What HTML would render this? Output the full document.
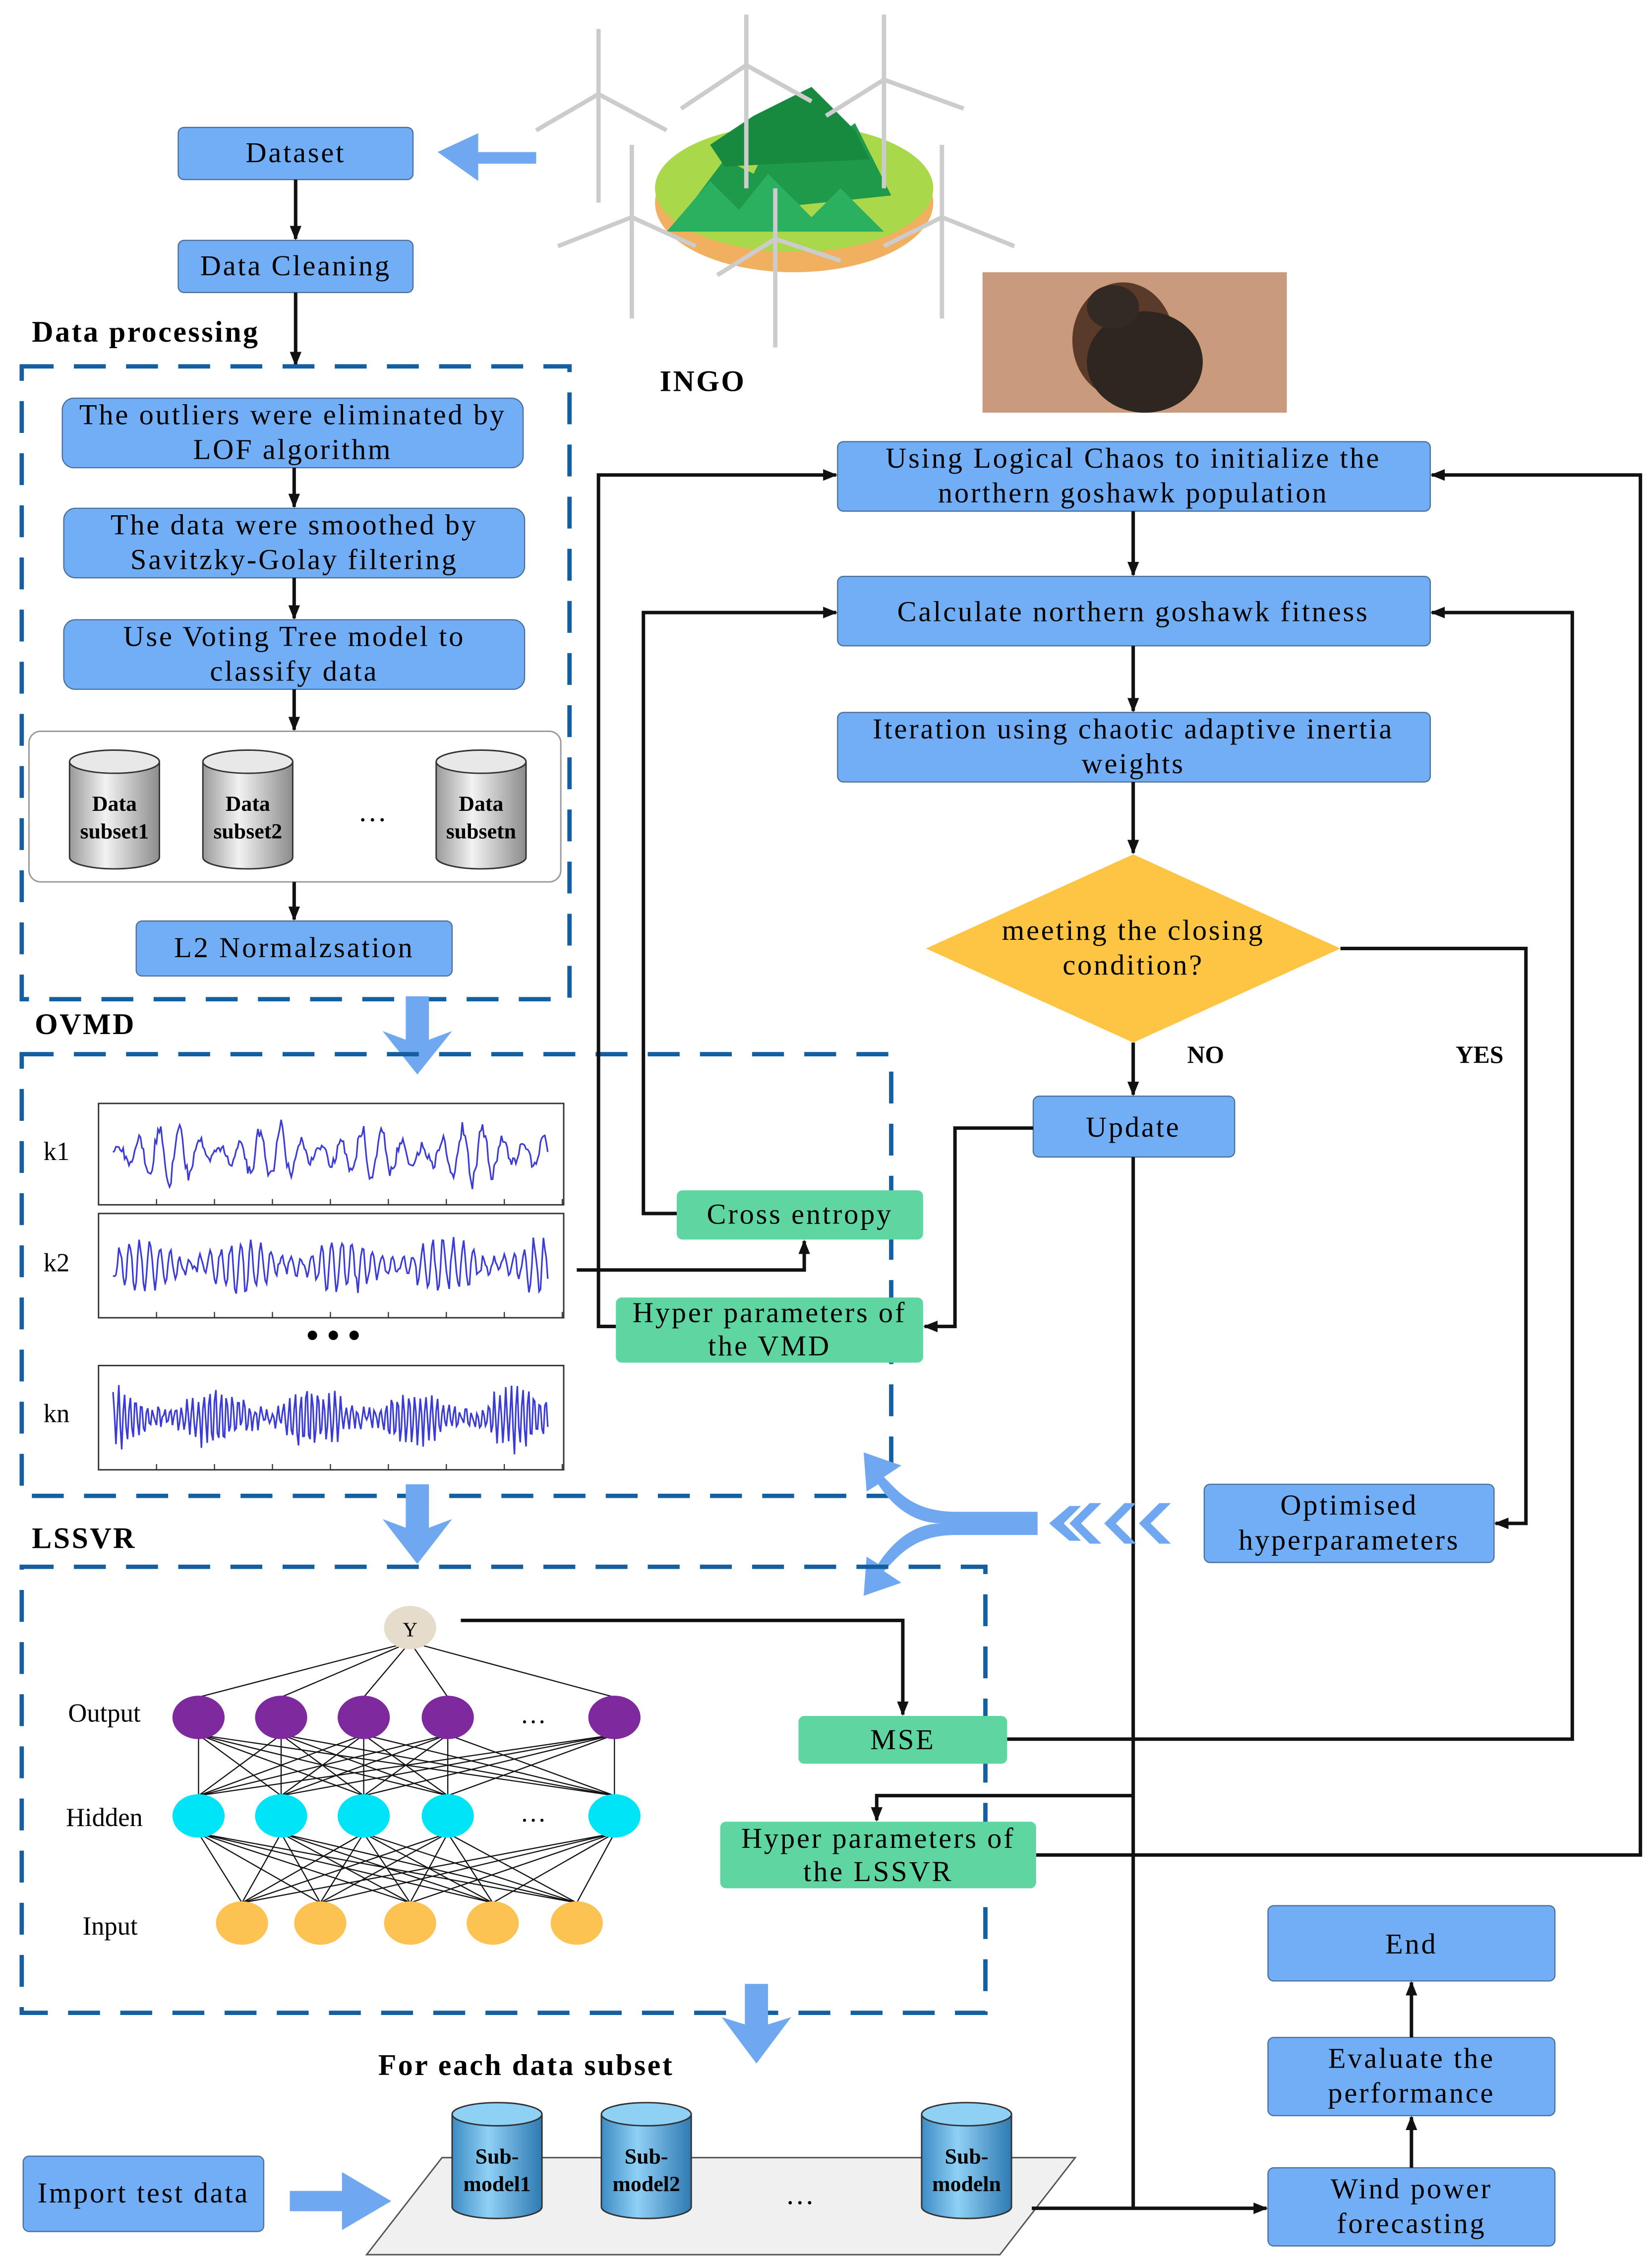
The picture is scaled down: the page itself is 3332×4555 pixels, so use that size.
<!DOCTYPE html>
<html><head><meta charset="utf-8"><style>
html,body{margin:0;padding:0;background:#fff;}
svg{display:block;}
text{font-family:"Liberation Serif",serif;fill:#000;}
.b{fill:#72aef5;stroke:#4a6f9a;stroke-width:0.8;}
.g{fill:#5fd6a2;stroke:none;}
.t{font-size:20px;text-anchor:middle;letter-spacing:1.3px;}
.l{stroke:#111;stroke-width:2.4;fill:none;}
.d{stroke:#135f9f;stroke-width:3;fill:none;stroke-dasharray:22,14;}
.h{font-size:20.5px;font-weight:bold;letter-spacing:1.2px;}
</style></head><body>
<svg id="s" xmlns="http://www.w3.org/2000/svg" width="3332" height="4555" viewBox="0 0 1140 1560" preserveAspectRatio="none">
<defs>
<marker id="a" markerWidth="10" markerHeight="10" refX="9" refY="5" orient="auto" markerUnits="userSpaceOnUse"><path d="M0,1 L10,5 L0,9 z" fill="#111"/></marker>
<linearGradient id="cyl" x1="0" x2="1"><stop offset="0" stop-color="#9a9a9a"/><stop offset="0.4" stop-color="#f2f2f2"/><stop offset="1" stop-color="#8c8c8c"/></linearGradient>
<linearGradient id="cylb" x1="0" x2="1"><stop offset="0" stop-color="#3d8cc4"/><stop offset="0.4" stop-color="#8fd0f5"/><stop offset="1" stop-color="#2f7ab3"/></linearGradient>
</defs>

<g>
<ellipse cx="548" cy="140" rx="96" ry="48" fill="#f0b060"/>
<ellipse cx="548" cy="130" rx="96" ry="44" fill="#a9d84a"/>
<path d="M470,150 L500,110 L520,120 L545,70 L570,100 L590,85 L615,135 Z" fill="#1f9a4a"/>
<path d="M490,100 L520,80 L560,60 L590,90 L600,110 L500,115Z" fill="#188a40"/>
<path d="M460,160 L490,125 L510,145 L530,120 L560,150 L580,130 L610,160Z" fill="#2bb060"/>
<g stroke="#ccc" stroke-width="3" fill="none">
<line x1="413" y1="20" x2="413" y2="140"/><line x1="413" y1="65" x2="370" y2="90"/><line x1="413" y1="65" x2="460" y2="90"/>
<line x1="515" y1="10" x2="515" y2="130"/><line x1="515" y1="45" x2="470" y2="75"/><line x1="515" y1="45" x2="560" y2="70"/>
<line x1="610" y1="10" x2="610" y2="130"/><line x1="610" y1="55" x2="570" y2="80"/><line x1="610" y1="55" x2="665" y2="75"/>
<line x1="436" y1="100" x2="436" y2="220"/><line x1="436" y1="150" x2="385" y2="170"/><line x1="436" y1="150" x2="480" y2="170"/>
<line x1="535" y1="130" x2="535" y2="240"/><line x1="535" y1="165" x2="495" y2="190"/><line x1="535" y1="165" x2="580" y2="180"/>
<line x1="650" y1="100" x2="650" y2="220"/><line x1="650" y1="150" x2="610" y2="170"/><line x1="650" y1="150" x2="700" y2="170"/>
</g>
</g>
<rect x="678" y="188" width="210" height="97" fill="#c99a7c"/>
<ellipse cx="775" cy="235" rx="35" ry="40" fill="#5a3b2a"/>
<ellipse cx="790" cy="250" rx="40" ry="35" fill="#2e2620"/>
<ellipse cx="768" cy="212" rx="18" ry="15" fill="#332a24"/>
<text x="485" y="270" class="h" text-anchor="middle">INGO</text>

<rect class="b" x="123" y="88" width="162" height="36" rx="4"/><text class="t" x="204" y="112">Dataset</text>
<path d="M370,105 L330,105 L330,92 L302,105 L330,125 L330,113 L370,113Z" fill="#6fa8f0"/>
<rect class="b" x="123" y="166" width="162" height="36" rx="4"/><text class="t" x="204" y="190">Data Cleaning</text>
<line class="l" x1="204" y1="124" x2="204" y2="165" marker-end="url(#a)"/>
<line class="l" x1="204" y1="202" x2="204" y2="252" marker-end="url(#a)"/>
<text class="h" x="22" y="236">Data processing</text>
<rect class="d" x="15" y="253" width="378" height="437"/>
<rect class="b" x="43" y="275" width="318" height="48" rx="8"/><text class="t" x="202" y="293">The outliers were eliminated by</text><text class="t" x="202" y="317">LOF algorithm</text>
<rect class="b" x="44" y="351" width="318" height="48" rx="8"/><text class="t" x="203" y="369">The data were smoothed by</text><text class="t" x="203" y="393">Savitzky-Golay filtering</text>
<rect class="b" x="44" y="428" width="318" height="48" rx="8"/><text class="t" x="203" y="446">Use Voting Tree model to</text><text class="t" x="203" y="470">classify data</text>
<line class="l" x1="203" y1="323" x2="203" y2="350" marker-end="url(#a)"/>
<line class="l" x1="203" y1="399" x2="203" y2="427" marker-end="url(#a)"/>
<line class="l" x1="203" y1="476" x2="203" y2="504" marker-end="url(#a)"/>
<rect x="20" y="505" width="367" height="104" rx="8" fill="#fff" stroke="#999" stroke-width="1"/>
<g id="cyls"></g>
<text x="257" y="567" font-size="20" text-anchor="middle">…</text>
<line class="l" x1="203" y1="609" x2="203" y2="635" marker-end="url(#a)"/>
<rect class="b" x="94" y="636" width="218" height="38" rx="4"/><text class="t" x="203" y="661">L2 Normalzsation</text>
<path d="M280,688 L296,688 L296,718 L312,712 L288,742 L264,712 L280,718Z" fill="#6fa8f0"/>

<text class="h" x="24" y="714">OVMD</text>
<path class="d" d="M15,728 L615,728 L615,1033 L15,1033 Z"/>
<g id="waves"></g>
<text x="30" y="801" font-size="18">k1</text>
<text x="30" y="878" font-size="18">k2</text>
<text x="30" y="982" font-size="18">kn</text>
<text x="230" y="930" font-size="24" text-anchor="middle" font-weight="bold">• • •</text>

<rect class="b" x="578" y="305" width="409" height="48" rx="4"/><text class="t" x="782" y="323">Using Logical Chaos to initialize the</text><text class="t" x="782" y="347">northern goshawk population</text>
<rect class="b" x="578" y="398" width="409" height="48" rx="4"/><text class="t" x="782" y="429">Calculate northern goshawk fitness</text>
<rect class="b" x="578" y="492" width="409" height="48" rx="4"/><text class="t" x="782" y="510">Iteration using chaotic adaptive inertia</text><text class="t" x="782" y="534">weights</text>
<line class="l" x1="782" y1="353" x2="782" y2="397" marker-end="url(#a)"/>
<line class="l" x1="782" y1="446" x2="782" y2="491" marker-end="url(#a)"/>
<line class="l" x1="782" y1="540" x2="782" y2="589" marker-end="url(#a)"/>
<path d="M782,590 L925,655 L782,720 L639,655Z" fill="#fdc543"/>
<text class="t" x="782" y="649">meeting the closing</text><text class="t" x="782" y="673">condition?</text>
<line class="l" x1="782" y1="720" x2="782" y2="756" marker-end="url(#a)"/>
<text x="832" y="734" font-size="17" font-weight="bold" text-anchor="middle">NO</text>
<text x="1021" y="734" font-size="17" font-weight="bold" text-anchor="middle">YES</text>
<rect class="b" x="713" y="757" width="139" height="42" rx="4"/><text class="t" x="782" y="785">Update</text>
<rect class="g" x="467" y="822" width="170" height="34" rx="4"/><text class="t" x="552" y="845">Cross entropy</text>
<rect class="g" x="425" y="896" width="212" height="45" rx="4"/><text class="t" x="531" y="913">Hyper parameters of</text><text class="t" x="531" y="936">the VMD</text>
<rect class="b" x="831" y="1025" width="200" height="54" rx="4"/><text class="t" x="931" y="1046">Optimised</text><text class="t" x="931" y="1070">hyperparameters</text>

<path class="l" d="M925,655 L1053,655 L1053,1052 L1032,1052" marker-end="url(#a)"/>
<path class="l" d="M467,838 L444,838 L444,423 L577,423" marker-end="url(#a)"/>
<path class="l" d="M425,916 L413,916 L413,328 L577,328" marker-end="url(#a)"/>
<path class="l" d="M713,779 L659,779 L659,916 L638,916" marker-end="url(#a)"/>
<path class="l" d="M398,877 L555,877 L555,857" marker-end="url(#a)"/>
<path class="l" d="M695,1201 L1085,1201 L1085,423 L988,423" marker-end="url(#a)"/>
<path class="l" d="M715,1281 L1132,1281 L1132,328 L988,328" marker-end="url(#a)"/>
<path class="l" d="M782,799 L782,1525"/>
<path class="l" d="M782,1240 L605,1240 L605,1257" marker-end="url(#a)"/>
<path class="l" d="M318,1119 L623,1119 L623,1184" marker-end="url(#a)"/>

<path d="M716,1044 L660,1044 C630,1044 620,1030 610,1020 L622,1012 L596,1003 L598,1030 L606,1025 C616,1040 630,1052 650,1052 C630,1052 616,1065 606,1080 L598,1075 L596,1102 L622,1093 L610,1085 C620,1075 630,1060 660,1060 L716,1060Z" fill="#6fa8f0"/>
<path d="M752,1038 L738,1052 L752,1066 L760,1066 L746,1052 L760,1038Z M776,1038 L762,1052 L776,1066 L784,1066 L770,1052 L784,1038Z M800,1038 L786,1052 L800,1066 L808,1066 L794,1052 L808,1038Z" fill="#6fa8f0"/>
<path d="M738,1040 L724,1052 L738,1064 L746,1064 L734,1052 L746,1040Z" fill="#6fa8f0"/>
<path d="M280,1025 L296,1025 L296,1055 L312,1049 L288,1080 L264,1049 L280,1055Z" fill="#6fa8f0"/>

<text class="h" x="22" y="1069">LSSVR</text>
<rect class="d" x="15" y="1082" width="665" height="308"/>
<g id="nn"></g>
<text x="72" y="1189" font-size="18" text-anchor="middle">Output</text>
<text x="72" y="1261" font-size="18" text-anchor="middle">Hidden</text>
<text x="76" y="1336" font-size="18" text-anchor="middle">Input</text>
<rect class="g" x="551" y="1185" width="144" height="33" rx="4"/><text class="t" x="623" y="1208">MSE</text>
<rect class="g" x="497" y="1258" width="218" height="46" rx="4"/><text class="t" x="606" y="1276">Hyper parameters of</text><text class="t" x="606" y="1299">the LSSVR</text>

<path d="M514,1370 L530,1370 L530,1398 L546,1393 L522,1425 L498,1393 L514,1398Z" fill="#6fa8f0"/>
<text class="h" x="363" y="1433" text-anchor="middle">For each data subset</text>
<path d="M305,1490 L742,1490 L690,1557 L253,1557Z" fill="#f0f0f0" stroke="#555" stroke-width="1"/>
<g id="subs"></g>
<text x="552" y="1522" font-size="20" text-anchor="middle">…</text>
<rect class="b" x="16" y="1489" width="166" height="52" rx="4"/><text class="t" x="99" y="1521">Import test data</text>
<path d="M200,1513 L236,1513 L236,1500 L270,1520 L236,1540 L236,1527 L200,1527Z" fill="#6fa8f0"/>
<line class="l" x1="712" y1="1525" x2="874" y2="1525" marker-end="url(#a)"/>
<rect class="b" x="875" y="1316" width="198" height="52" rx="4"/><text class="t" x="974" y="1349">End</text>
<rect class="b" x="875" y="1407" width="198" height="54" rx="4"/><text class="t" x="974" y="1428">Evaluate the</text><text class="t" x="974" y="1452">performance</text>
<rect class="b" x="875" y="1497" width="198" height="54" rx="4"/><text class="t" x="974" y="1518">Wind power</text><text class="t" x="974" y="1542">forecasting</text>
<line class="l" x1="974" y1="1497" x2="974" y2="1462" marker-end="url(#a)"/>
<line class="l" x1="974" y1="1407" x2="974" y2="1369" marker-end="url(#a)"/>
</svg>
<script>
var NS="http://www.w3.org/2000/svg";
function el(p,t,a,txt){var e=document.createElementNS(NS,t);for(var k in a)e.setAttribute(k,a[k]);if(txt!=null)e.textContent=txt;document.getElementById(p).appendChild(e);return e;}
function cyl(g,x,y,w,h,fill,top,l1,l2){
 el(g,"path",{d:"M"+x+","+(y+8)+" L"+x+","+(y+h-8)+" A"+(w/2)+",8 0 0 0 "+(x+w)+","+(y+h-8)+" L"+(x+w)+","+(y+8),fill:fill,stroke:"#333","stroke-width":1});
 el(g,"ellipse",{cx:x+w/2,cy:y+8,rx:w/2,ry:8,fill:top,stroke:"#333","stroke-width":1});
 el(g,"text",{x:x+w/2,y:y+42,"font-size":15,"font-weight":"bold","text-anchor":"middle"},l1);
 el(g,"text",{x:x+w/2,y:y+61,"font-size":15,"font-weight":"bold","text-anchor":"middle"},l2);
}
cyl("cyls",48,518,62,82,"url(#cyl)","#e8e8e8","Data","subset1");
cyl("cyls",140,518,62,82,"url(#cyl)","#e8e8e8","Data","subset2");
cyl("cyls",301,518,62,82,"url(#cyl)","#e8e8e8","Data","subsetn");
cyl("subs",312,1452,62,80,"url(#cylb)","#8fd0f5","Sub-","model1");
cyl("subs",415,1452,62,80,"url(#cylb)","#8fd0f5","Sub-","model2");
cyl("subs",636,1452,62,80,"url(#cylb)","#8fd0f5","Sub-","modeln");
function wave(y,h,f,amp,seed){
 el("waves","rect",{x:68,y:y,width:321,height:h,fill:"#fff",stroke:"#333","stroke-width":1});
 var c=y+h/2,d="",s=seed;
 function r(){s=(s*9301+49297)%233280;return s/233280;}
 for(var i=0;i<=300;i++){var x=78+i;var env=0.2+0.8*Math.pow(Math.abs(Math.sin(i*0.045+seed)),2)*(0.5+r()*0.5);
  var v=Math.sin(i*f+seed)*env*amp+(r()-0.5)*amp*0.3;d+=(i?"L":"M")+x+","+(c+v).toFixed(1);}
 el("waves","path",{d:d,fill:"none",stroke:"#3b3bd6","stroke-width":1.1});
 for(var t=0;t<9;t++){el("waves","line",{x1:68+t*40,y1:y+h,x2:68+t*40,y2:y+h-4,stroke:"#333","stroke-width":0.8});}
}
wave(762,70,0.45,24,3);wave(838,72,0.9,22,7);wave(943,72,1.6,24,11);
var ox=[137,194,251,309,424],ix=[167,221,283,340,398];
ox.forEach(function(a){el("nn","line",{x1:283,y1:1134,x2:a,y2:1172,stroke:"#111","stroke-width":0.8});});
ox.forEach(function(a){ox.forEach(function(b){el("nn","line",{x1:a,y1:1198,x2:b,y2:1240,stroke:"#111","stroke-width":0.8});});});
ox.forEach(function(a){ix.forEach(function(b){el("nn","line",{x1:a,y1:1266,x2:b,y2:1314,stroke:"#111","stroke-width":0.8});});});
el("nn","ellipse",{cx:283,cy:1124,rx:18,ry:15,fill:"#e6dccb"});
el("nn","text",{x:283,y:1130,"font-size":14,"text-anchor":"middle"},"Y");
ox.forEach(function(a){el("nn","ellipse",{cx:a,cy:1186,rx:18,ry:15,fill:"#7e2a9e"});el("nn","ellipse",{cx:a,cy:1254,rx:18,ry:15,fill:"#00e4f8"});});
ix.forEach(function(a){el("nn","ellipse",{cx:a,cy:1328,rx:18,ry:15,fill:"#fdc352"});});
el("nn","text",{x:368,y:1190,"font-size":18,"text-anchor":"middle"},"…");
el("nn","text",{x:368,y:1258,"font-size":18,"text-anchor":"middle"},"…");
</script>
</body></html>
